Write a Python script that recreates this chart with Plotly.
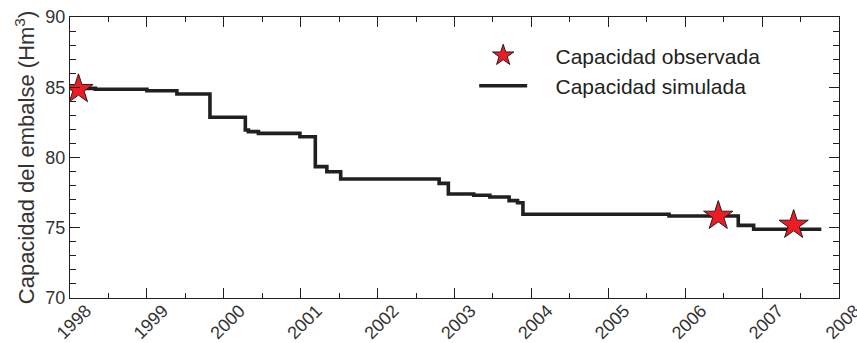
import plotly.graph_objects as go

# Simulated capacity (step series): start of each step (decimal year) and value (Hm3)
sim_years = [1998.00, 1998.33, 1999.00, 1999.39, 1999.82, 2000.28, 2000.32, 2000.45,
             2000.99, 2001.19, 2001.34, 2001.52, 2002.80, 2002.92, 2003.25, 2003.46,
             2003.71, 2003.82, 2003.89, 2005.79, 2006.69, 2006.89, 2007.77]
sim_values = [84.92, 84.86, 84.75, 84.52, 82.86, 81.96, 81.84, 81.72,
              81.48, 79.35, 78.99, 78.47, 78.16, 77.40, 77.31, 77.19,
              76.93, 76.78, 75.96, 75.84, 75.17, 74.89, 74.89]

# Observed capacity
obs_years = [1998.11, 2006.43, 2007.41]
obs_values = [84.86, 75.84, 75.20]

tick_years = [1998, 1999, 2000, 2001, 2002, 2003, 2004, 2005, 2006, 2007, 2008]
tick_labels = [str(y) for y in tick_years]

ink = "#231f20"
font_family = "Liberation Sans, Arial, Helvetica, sans-serif"
pad = "\u00a0" * 4

fig = go.Figure()
fig.add_trace(go.Scatter(
    x=sim_years, y=sim_values, mode="lines", line_shape="hv",
    line=dict(color=ink, width=3.6), name=pad + "Capacidad simulada"))
fig.add_trace(go.Scatter(
    x=obs_years, y=obs_values, mode="markers", name=pad + "Capacidad observada",
    marker=dict(symbol="star", size=22, color="#ed1c24",
                line=dict(color=ink, width=1))))

fig.update_layout(
    width=857, height=343,
    margin=dict(l=70, r=18, t=17, b=45, autoexpand=False),
    paper_bgcolor="white", plot_bgcolor="white",
    font=dict(family=font_family, color=ink, size=18),
    showlegend=True,
    legend=dict(x=0.5256, y=0.935, xanchor="left", yanchor="top",
                traceorder="reversed", bgcolor="rgba(0,0,0,0)",
                font=dict(size=21, color=ink), itemwidth=48,
                tracegroupgap=0),
)
fig.update_xaxes(
    range=[1998, 2008], tickmode="array", tickvals=tick_years, ticktext=tick_labels,
    tickangle=-45, ticks="inside", ticklen=10, tickwidth=1, tickcolor=ink,
    ticklabelshift=16, ticklabelstandoff=-6, ticklabeloverflow="allow",
    automargin=False,
    showline=True, linecolor=ink, linewidth=1.2, mirror="ticks",
    showgrid=False, zeroline=False,
    tickfont=dict(size=18, color="#333"),
    minor=dict(dtick=0.5, tick0=1998, ticks="inside", ticklen=5, tickcolor=ink, tickwidth=1),
)
fig.update_yaxes(
    range=[70, 90], tickmode="linear", tick0=70, dtick=5,
    ticks="inside", ticklen=10, tickwidth=1, tickcolor=ink,
    automargin=False,
    showline=True, linecolor=ink, linewidth=1.2, mirror="ticks",
    showgrid=False, zeroline=False,
    tickfont=dict(size=18, color="#333"),
    minor=dict(dtick=1, tick0=70, ticks="inside", ticklen=6, tickcolor=ink, tickwidth=1),
    title=dict(text="Capacidad del embalse (Hm<sup>3</sup>)", font=dict(size=22, color="#333"),
               standoff=4),
)

fig.write_html("out.html")
